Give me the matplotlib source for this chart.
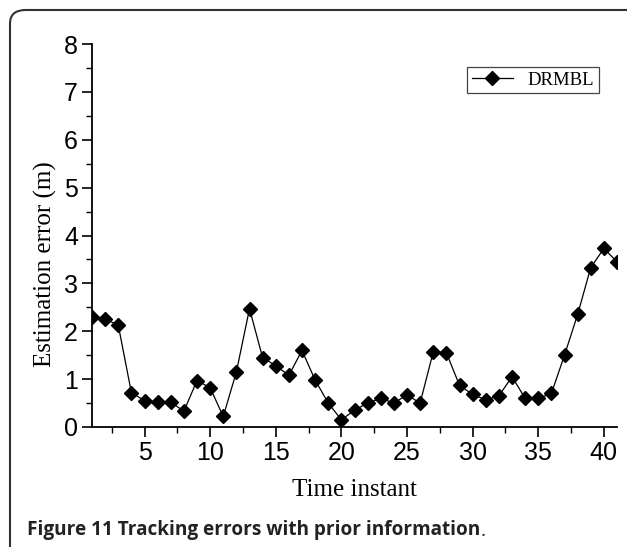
import numpy as np
import matplotlib.pyplot as plt
from matplotlib.patches import FancyBboxPatch
from matplotlib.ticker import MultipleLocator

# time instants and estimation error
timeInstant = np.arange(1, 42)
estError = [2.30, 2.25, 2.13, 0.72, 0.55, 0.52, 0.52, 0.33, 0.97, 0.82,
            0.22, 1.15, 2.47, 1.45, 1.28, 1.08, 1.60, 0.98, 0.50, 0.15,
            0.35, 0.50, 0.60, 0.50, 0.67, 0.50, 1.57, 1.55, 0.87, 0.68,
            0.57, 0.65, 1.05, 0.60, 0.60, 0.70, 1.50, 2.35, 3.33, 3.73,
            3.45]
seriesName = 'DRMBL'
caption = 'Figure 11 Tracking errors with prior information'

fig = plt.figure(figsize=(6.27, 5.47), dpi=100)

# rounded frame around the figure
frame = FancyBboxPatch((10 / 627, -0.2), 1.2, (537 / 547) + 0.2,
                       boxstyle='round,pad=0,rounding_size=0.025',
                       transform=fig.transFigure, fill=False,
                       edgecolor='#333333', linewidth=1.5)
fig.patches.append(frame)

ax = fig.add_axes([92 / 627, 1 - 427 / 547, 525 / 627, 383 / 547])
ax.plot(timeInstant, estError, '-', color='black', linewidth=0.9,
        marker='D', markersize=6.8, markerfacecolor='black',
        markeredgecolor='black', label=seriesName)

ax.set_xlim(1, 41)
ax.set_ylim(0, 8)
ax.xaxis.set_major_locator(MultipleLocator(5))
ax.xaxis.set_minor_locator(MultipleLocator(2.5))
ax.yaxis.set_major_locator(MultipleLocator(1))
ax.yaxis.set_minor_locator(MultipleLocator(0.5))

for side in ['top', 'right']:
    ax.spines[side].set_visible(False)
for side in ['left', 'bottom']:
    ax.spines[side].set_linewidth(1.3)

ax.tick_params(which='major', direction='out', length=7, width=1.2,
               labelsize=18, pad=3)
ax.tick_params(which='minor', direction='out', length=4, width=1.0)
for lbl in ax.get_xticklabels() + ax.get_yticklabels():
    lbl.set_family('Liberation Sans')

ax.set_xlabel('Time instant', family='Liberation Serif', fontsize=18,
              labelpad=10)
ax.set_ylabel('Estimation error (m)', family='Liberation Serif', fontsize=18)
ax.yaxis.set_label_coords(-0.066, 0.425)

leg = ax.legend(loc='upper right', bbox_to_anchor=(0.966, 0.94),
                prop={'family': 'Liberation Serif', 'size': 13.5},
                fancybox=False, framealpha=1, edgecolor='#444444',
                handlelength=2.2, borderpad=0.25, handletextpad=0.8,
                borderaxespad=0)
leg.get_frame().set_linewidth(0.9)

# caption: bold part, then a plain full stop right after it
capText = fig.text(27 / 627, 1 - 535 / 547, caption, family='Open Sans',
                   fontweight='bold', fontsize=13.7, color='#222222',
                   va='baseline')
plt.annotate('.', xy=(1, 0), xycoords=capText, xytext=(0.5, 0),
             textcoords='offset points', family='Open Sans', fontsize=13.7,
             color='#222222', va='bottom', ha='left')

fig.savefig('out.png', dpi=100)
